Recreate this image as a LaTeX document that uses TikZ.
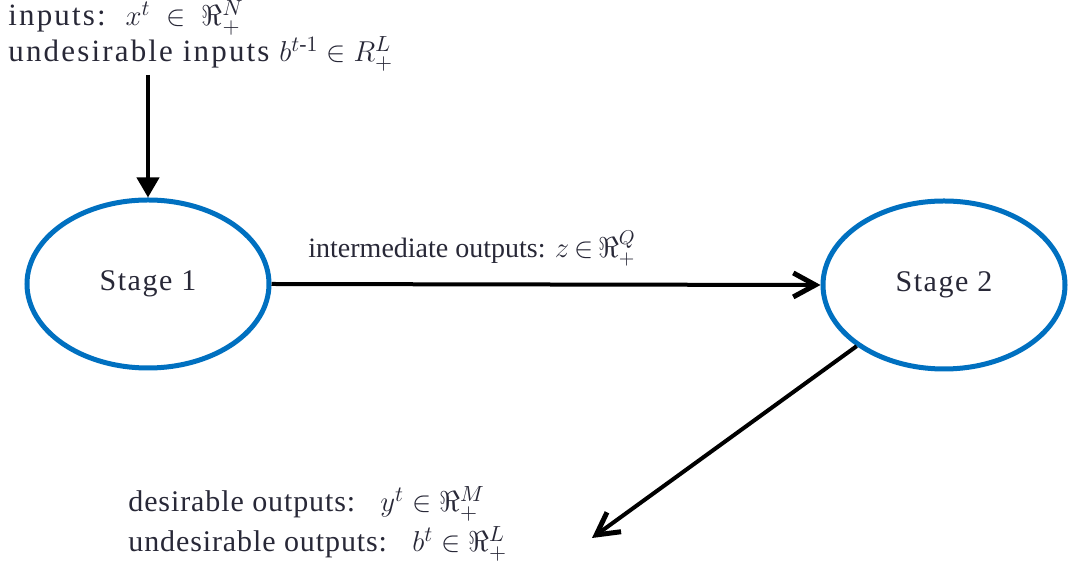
\documentclass[tikz,border=0pt]{standalone}
\usepackage{amsmath}
\usepackage{fontspec}
\setmainfont{Liberation Serif}
\usetikzlibrary{arrows.meta,shapes.geometric}
\definecolor{stageblue}{RGB}{0,112,192}
\definecolor{txt}{RGB}{40,40,55}
\begin{document}
\begin{tikzpicture}[x=0.5pt,y=-0.5pt,
  stage/.style={ellipse, draw=stageblue, line width=2.5pt, minimum width=121pt, minimum height=84pt, inner sep=0pt, font=\fontsize{15}{18}\selectfont\addfontfeature{LetterSpace=5}, text=txt},
  lbl/.style={anchor=base west, inner sep=0pt, text=txt},
  toptext/.style={lbl, font=\fontsize{15.5}{18}\selectfont\addfontfeature{LetterSpace=7}},
  midtext/.style={lbl, font=\fontsize{14}{17}\selectfont},
  bottext/.style={lbl, font=\fontsize{15}{18}\selectfont\addfontfeature{LetterSpace=3}},
  flow/.style={line width=2pt, draw=black},
  barb/.style={-{Straight Barb[length=11pt,width=12pt,line width=2.5pt]}}
]
\useasboundingbox (0,0) rectangle (1072,565);
\node[stage] (s1) at (148,284) {Stage 1};
\node[stage] (s2) at (944,285) {Stage 2};
\node[toptext] (in1) at (8,26) {inputs:\ \ $x^t \;\in\; \Re^N_+$};
\node[toptext] (in2) at (8,62) {undesirable inputs $b^{t\text{-}1} \in R^L_+$};
\node[midtext] (mid) at (308,258) {intermediate outputs: $z\,{\in}\,\Re^Q_+$};
\node[bottext] (o1) at (128,512) {desirable outputs:\ \ \ $y^t \in \Re^M_+$};
\node[bottext] (o2) at (128,552) {undesirable outputs:\ \ \ $b^t \in \Re^L_+$};
\coordinate (top) at (148,75);
\coordinate (out) at (592,538);
\draw[flow,-{Triangle[length=10pt,width=11pt]}] (top) -- (s1.north);
\draw[flow,barb] (s1.east) -- (s2.west);
\draw[flow,barb] (s2.215) -- (out);
\end{tikzpicture}
\end{document}
